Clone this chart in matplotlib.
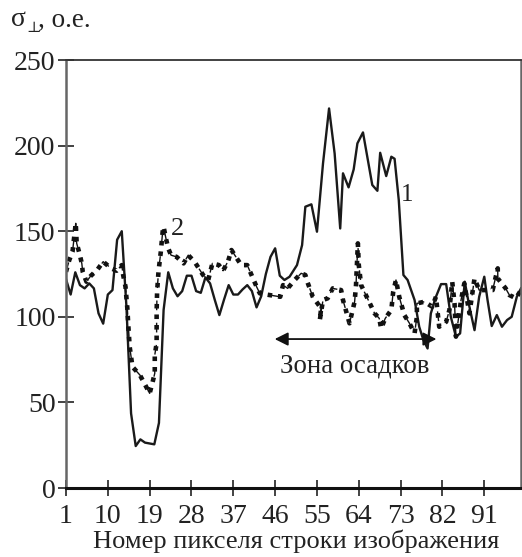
import matplotlib
matplotlib.use('Agg')
from matplotlib import pyplot as plt

plt.rcParams['font.family'] = ['Liberation Serif', 'DejaVu Serif']

x_ticks = [1, 10, 19, 28, 37, 46, 55, 64, 73, 82, 91]
y_ticks = [0, 50, 100, 150, 200, 250]

# curve 1, solid
x1 = [1, 2, 3, 4, 5, 6, 7, 8, 9, 10, 11, 12, 13, 14, 15, 16, 17, 18, 19, 20,
      21, 22, 23, 24, 25, 26, 27, 28, 29, 30, 31, 32, 33, 34, 35, 36, 37, 38,
      39, 40, 41, 42, 43, 44, 45, 46, 47, 48, 49.1, 50.7, 51.8, 52.5, 53.8,
      55, 56.3, 57.6, 58.8, 60, 60.6, 61.8, 62.9, 63.7, 64.9, 66.9, 68, 68.6,
      69.9, 71, 71.7, 72.6, 73.6, 74.5, 76, 77, 77.9, 78.8, 79.5, 80.6, 81.7,
      82.8, 83.8, 84.9, 85.8, 86.8, 87.8, 88.9, 89.9, 91, 91.7, 92.6, 93.7,
      94.8, 95.9, 96.9, 98, 98.9]
y1 = [122, 113, 126, 118.5, 116.6, 119.5, 116.6, 102, 96, 113, 115.6, 145, 150,
      106, 43.6, 24.5, 28.4, 26.5, 26, 25.5, 38, 104, 126, 116.6, 112, 115, 124,
      124, 115, 114, 123, 119.5, 110, 101, 110, 118.5, 113, 113, 116, 118.5,
      115, 105.5, 112, 125, 135, 140, 124, 121.5, 123.4, 130.2, 141.9, 164.3,
      165.7, 149.7, 189.6, 221.7, 195.4, 151.6, 183.8, 175.6, 186.1, 201.3,
      207.7, 177, 173.6, 195.8, 182.2, 193.5, 192.3, 168.2, 124.4, 121.5, 109.8,
      94.2, 86.4, 81.5, 102, 111.7, 119.1, 119.1, 100, 88.4, 90.3, 120.5, 105.9,
      92.2, 111.7, 123.4, 109.8, 94.6, 101, 94.2, 98.1, 100, 111.7, 116.6]

# curve 2, dotted
x2 = [1, 1.7, 2.4, 3.1, 3.3, 3.9, 4.4, 4.6, 5.4, 6.3, 7.8, 9, 10.7, 11.9, 13,
      13.3, 13.8, 14.2, 14.4, 14.7, 15, 15.3, 16.9, 19, 19.6, 20.1, 20.1, 20.5,
      20.5, 20.6, 20.9, 21.4, 21.8, 22, 22.5, 23, 23.6, 24.8, 26.3, 27.3, 28.7,
      30.5, 31.6, 32.5, 33.9, 34.8, 35.9, 36.6, 38.7, 40, 42, 42.7, 44.8, 47.1,
      47.7, 48.7, 50.2, 51.6, 52.5, 53, 54.1, 55.9, 55.6, 56.3, 57.3, 58.4,
      60.2, 60.6, 62, 63.1, 63.4, 63.8, 64, 64.5, 65.7, 67.4, 68.4, 68.8, 69.7,
      71, 71.4, 72, 72.7, 73.8, 74.9, 76, 76.5, 76.5, 78.1, 79.8, 80.6, 81.3,
      82.8, 83.5, 84.1, 84.6, 84.9, 86, 86.7, 87.8, 88.9, 89.9, 92.8, 93.9,
      93.9, 95.6, 96.4, 97.8, 98.9]
y2 = [126.3, 133.1, 138, 154.6, 142.9, 137, 131.2, 126.3, 120.5, 123.8, 127.7,
      132.2, 128.3, 126.9, 130.2, 124.4, 117.6, 104.9, 95.2, 82.5, 76.7, 70.8,
      66, 55.3, 61.5, 67, 77.7, 84.5, 103, 114.6, 126.3, 138, 149.7, 152.6,
      145.8, 140, 136, 135, 131.2, 136, 132, 124.4, 121.5, 131.2, 130.2, 126.9,
      132.7, 139, 130.2, 130.2, 117.6, 113.7, 112.7, 111.7, 118.5, 116.6, 121.5,
      125.4, 124.4, 119.9, 111.7, 104.9, 98, 109.8, 110.8, 116.6, 115.6, 109.8,
      96.2, 108.8, 118.5, 142.9, 130.2, 118.5, 111.7, 102, 99.1, 93.2, 99.1,
      104, 114.6, 121.5, 111.7, 101, 96.2, 90.3, 100, 107.8, 108.8, 105.9,
      111.7, 94.2, 97.1, 104, 120.5, 107.8, 88.4, 109.8, 119.5, 102, 122.4,
      115.6, 115.6, 128.3, 122.4, 116.6, 112.7, 110.8, 115.6]

fig = plt.figure(figsize=(5.22, 5.57), dpi=100)
ax = fig.add_axes([66 / 522, 1 - 488 / 557, 455 / 522, 428 / 557])

ax.plot(x1, y1, color='#1a1a1a', lw=1.7)
ax.plot(x2, y2, color='#111111', lw=3.3, linestyle=(0, (1, 1.3)))
ax.plot(x2, y2, color='#111111', lw=1.0, linestyle=(0, (7, 9)))

ax.set_xlim(1, 98.9)
ax.set_ylim(0, 250)
ax.set_xticks(x_ticks)
ax.set_yticks(y_ticks)
ax.tick_params(axis='both', direction='inout', length=11, width=1.2,
               labelsize=20, color='#222222', labelcolor='#222222')
ax.tick_params(axis='x', pad=6)
ax.tick_params(axis='y', pad=2)

ax.spines['left'].set_color('#666666')
ax.spines['left'].set_linewidth(1.8)
ax.spines['right'].set_color('#666666')
ax.spines['right'].set_linewidth(1.8)
ax.spines['top'].set_color('#333333')
ax.spines['top'].set_linewidth(1.3)
ax.spines['bottom'].set_color('#111111')
ax.spines['bottom'].set_linewidth(2.2)

ax.annotate('', xy=(45.9, 87), xytext=(80.7, 87),
            arrowprops=dict(arrowstyle='<|-|>', color='#111111', lw=1.3,
                            mutation_scale=20, shrinkA=0, shrinkB=0))
ax.text(63.2, 71, 'Зона осадков', fontsize=19.4, ha='center', va='center', color='#222222')
ax.text(74.5, 171, '1', fontsize=18, ha='center', va='center', color='#222222')
ax.text(25, 151, '2', fontsize=19, ha='center', va='center', color='#222222')

fig.text(296 / 522, 1 - 541 / 557, 'Номер пикселя строки изображения', fontsize=19,
         ha='center', va='center', color='#222222')
fig.text(11 / 522, 1 - 19 / 557, 'σ', fontsize=20, ha='left', va='center', color='#222222')
fig.text(26.5 / 522, 1 - 29 / 557, '⊥', fontsize=11, ha='left', va='center', color='#222222')
fig.text(38 / 522, 1 - 20 / 557, ', о.е.', fontsize=19.5, ha='left', va='center', color='#222222')

fig.savefig('out.png', dpi=100)
